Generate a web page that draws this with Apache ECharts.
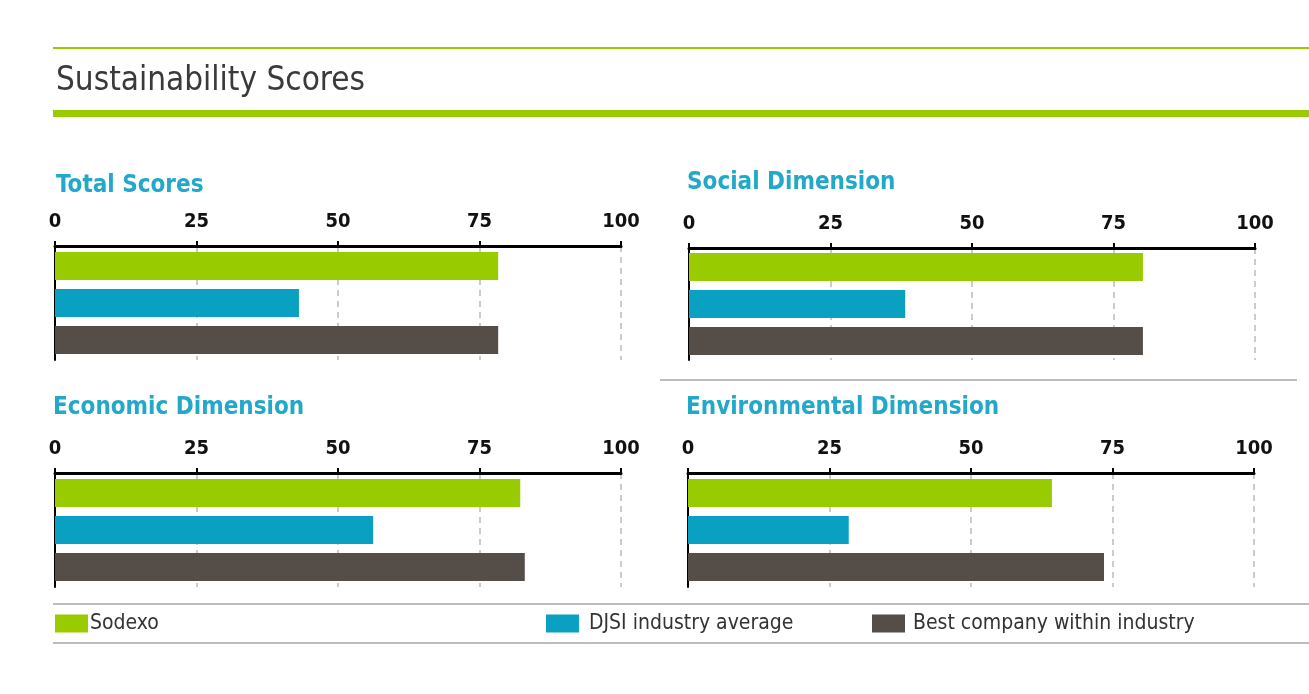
<!DOCTYPE html>
<html>
<head>
<meta charset="utf-8">
<script src="https://cdn.jsdelivr.net/npm/echarts@6/dist/echarts.min.js"></script>
<style>
html,body{margin:0;padding:0;background:#fff;}
#c{width:1309px;height:694px;}
</style>
</head>
<body>
<div id="c"></div>
<script>
const panels = ["Total Scores", "Social Dimension", "Economic Dimension", "Environmental Dimension"];
const seriesNames = ["Sodexo", "DJSI industry average", "Best company within industry"];
const sodexo = [78.3, 80.2, 82.2, 64.3];
const djsiAverage = [43.1, 38.2, 56.2, 28.4];
const bestCompany = [78.3, 80.2, 83.0, 73.5];
const tickValues = [0, 25, 50, 75, 100];

const FONT = '"Liberation Sans Narrow", "DejaVu Sans Condensed", "Open Sans", sans-serif';
const colors = ['#99cc00', '#0aa0c2', '#554d48'];
const seriesData = [sodexo, djsiAverage, bestCompany];

const gridPos = [
  {left: 55, right: 688, top: 246, height: 114},
  {left: 689, right: 54, top: 248, height: 112},
  {left: 55, right: 688, top: 473, height: 114},
  {left: 688, right: 55, top: 473, height: 114}
];
const titlePos = [
  {left: 56, top: 174},
  {left: 687, top: 171},
  {left: 53, top: 396},
  {left: 686, top: 396}
];

const chart = echarts.init(document.getElementById('c'));
const option = {
  animation: false,
  backgroundColor: '#fff',
  title: [{
    text: 'Sustainability Scores', left: 56, top: 65, padding: 0,
    textStyle: {fontFamily: FONT, fontSize: 33, fontWeight: 'normal', color: '#3a3a3a'}
  }].concat(panels.map((p, i) => ({
    text: p, left: titlePos[i].left, top: titlePos[i].top, padding: 0,
    textStyle: {fontFamily: FONT, fontSize: 24, fontWeight: 'bold', color: '#22a8c8'}
  }))),
  graphic: [
    {type: 'rect', shape: {x: 53, y: 47, width: 1256, height: 2}, style: {fill: '#99cc00'}},
    {type: 'rect', shape: {x: 53, y: 110, width: 1256, height: 7}, style: {fill: '#99cc00'}},
    {type: 'rect', shape: {x: 660, y: 379, width: 637, height: 2}, style: {fill: '#bdbdbd'}},
    {type: 'rect', shape: {x: 53, y: 603, width: 1256, height: 2}, style: {fill: '#bdbdbd'}},
    {type: 'rect', shape: {x: 53, y: 642, width: 1256, height: 2}, style: {fill: '#bdbdbd'}}
  ],
  legend: seriesNames.map((n, i) => ({
    data: [n], left: [55, 546, 872][i], top: 613, padding: 0,
    icon: 'rect', itemWidth: 33, itemHeight: 18, itemGap: 4,
    textStyle: {fontFamily: FONT, fontSize: 21, color: '#333', padding: [0, 0, 0, [-3, 5, 3][i]]},
    selectedMode: false
  })),
  grid: gridPos.map(g => Object.assign({containLabel: false}, g)),
  xAxis: gridPos.map((g, i) => ({
    gridIndex: i, type: 'value', position: 'top', min: 0, max: 100, interval: 25,
    axisLine: {show: true, onZero: false, lineStyle: {color: '#000', width: 3}},
    axisTick: {show: true, length: 5, lineStyle: {color: '#000', width: 2}},
    axisLabel: {
      margin: 14, fontFamily: FONT, fontSize: 20, fontWeight: 'bold', color: '#111',
      customValues: tickValues
    },
    splitLine: {show: true, lineStyle: {color: '#bbb', type: [6, 5], width: 1.5}}
  })),
  yAxis: gridPos.map((g, i) => ({
    gridIndex: i, type: 'category', data: [panels[i]], inverse: true,
    axisLine: {show: true, lineStyle: {color: '#000', width: 2}},
    axisTick: {show: false}, axisLabel: {show: false}
  })),
  series: []
};
for (let p = 0; p < panels.length; p++) {
  for (let s = 0; s < seriesNames.length; s++) {
    option.series.push({
      type: 'bar', name: seriesNames[s], xAxisIndex: p, yAxisIndex: p,
      data: [seriesData[s][p]], barWidth: 28, barGap: '32%',
      itemStyle: {color: colors[s]}
    });
  }
}
chart.setOption(option);
</script>
</body>
</html>
